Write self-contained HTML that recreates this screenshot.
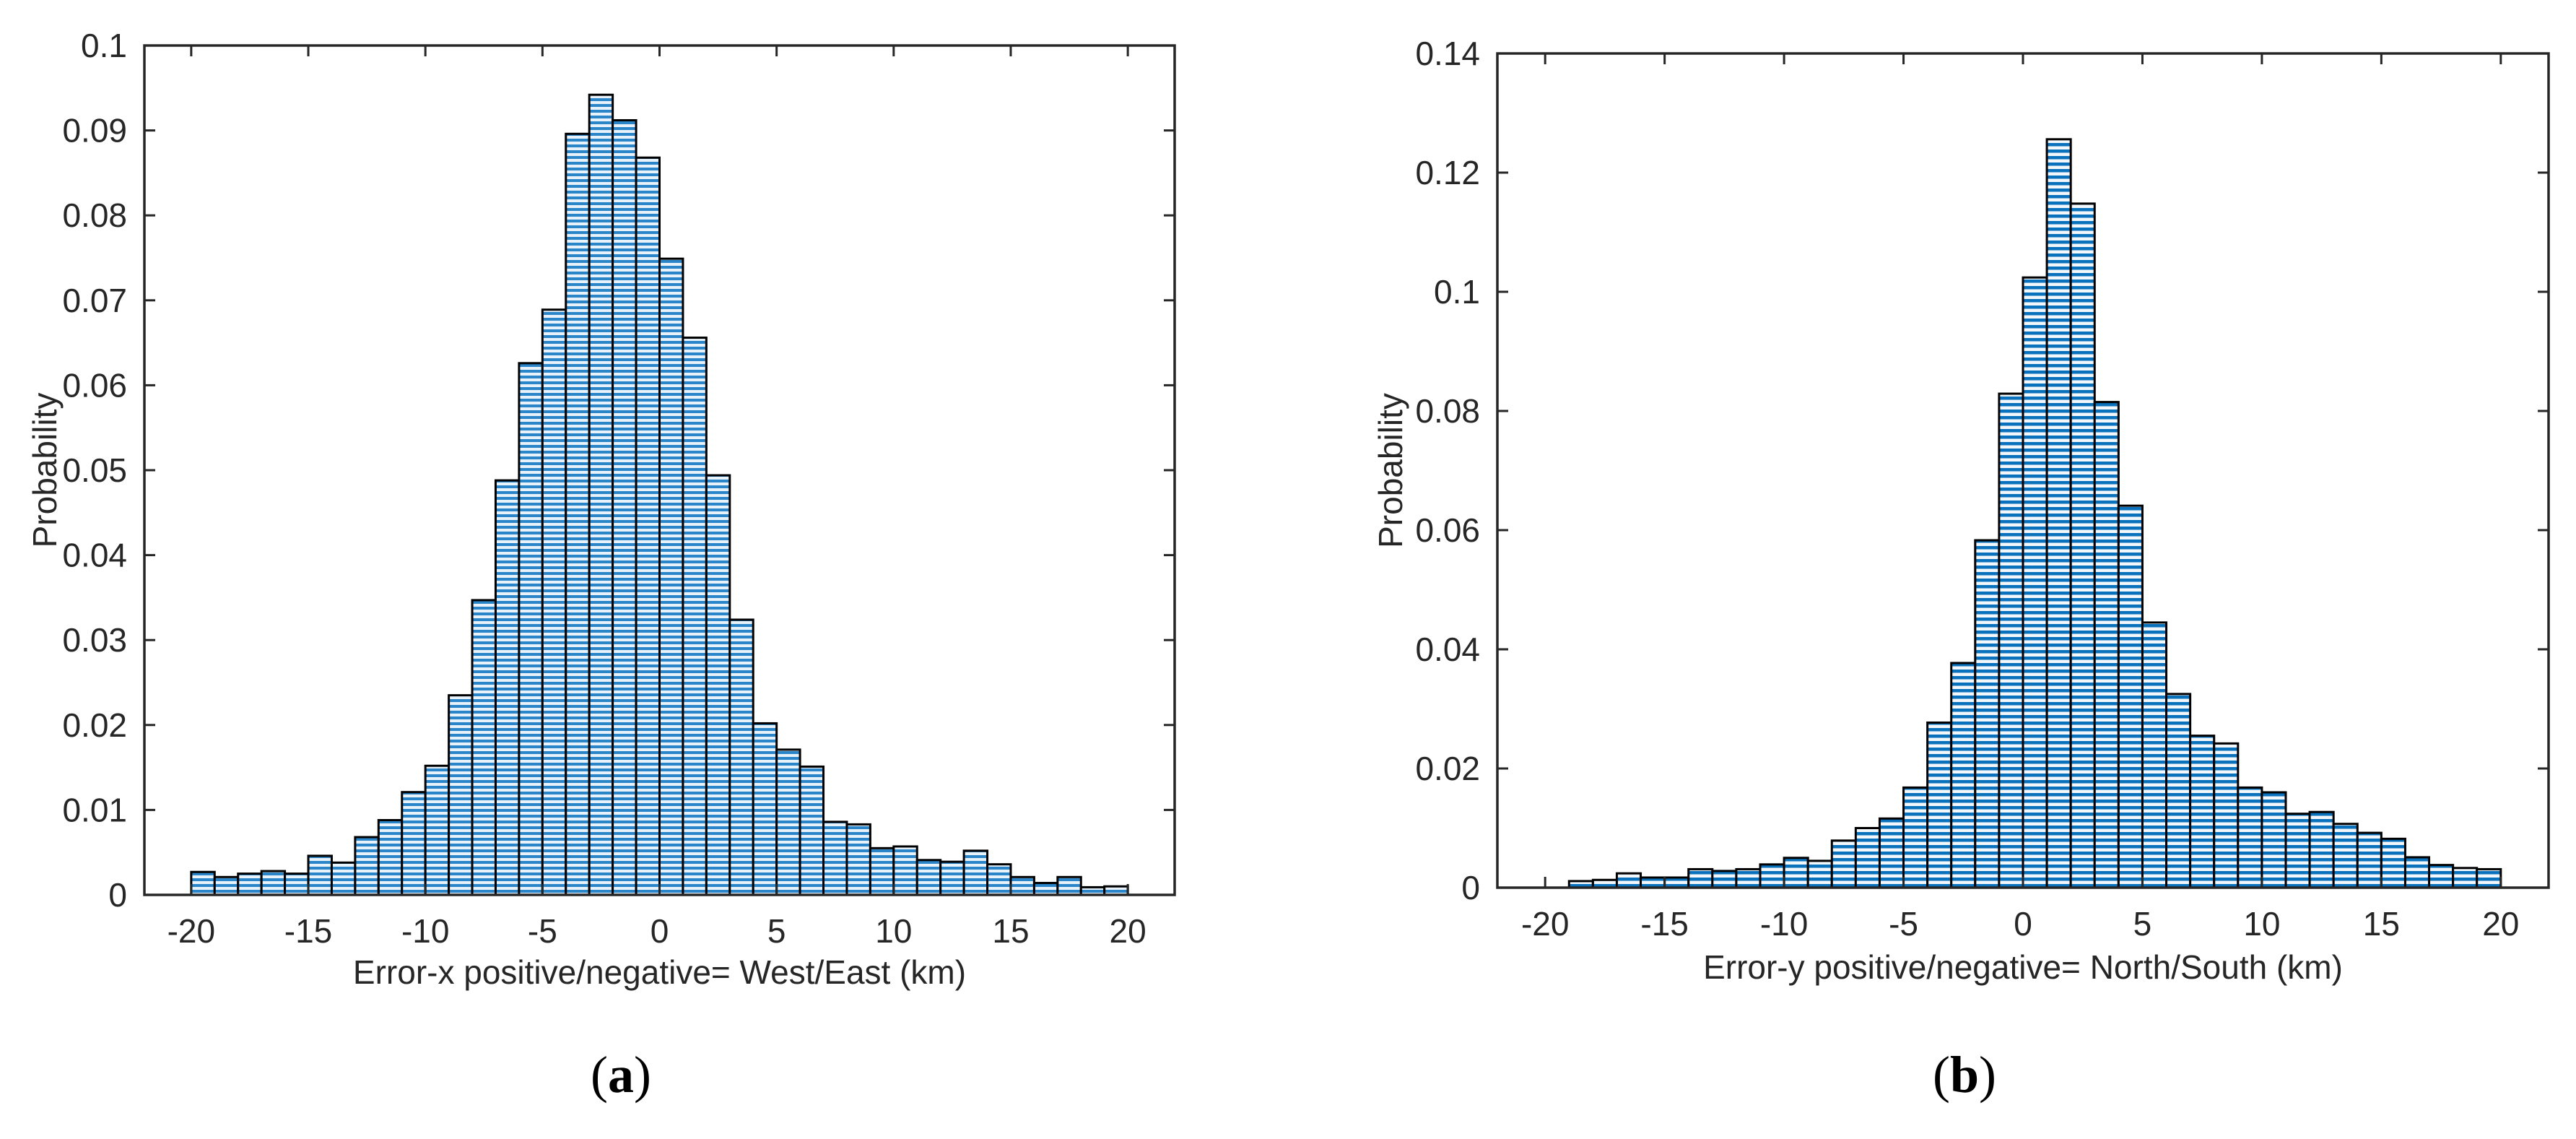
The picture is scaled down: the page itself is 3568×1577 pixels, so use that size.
<!DOCTYPE html>
<html><head><meta charset="utf-8"><style>
html,body{margin:0;padding:0;background:#fff;}
svg{display:block;}
text{font-family:"Liberation Sans",Arial,sans-serif;fill:#262626;}
</style></head><body>
<svg id="fig" width="3568" height="1577" viewBox="0 0 3568 1577" xmlns="http://www.w3.org/2000/svg">
<defs>
<pattern id="stripeA" width="8" height="8" patternUnits="userSpaceOnUse" y="0">
<rect width="8" height="8" fill="#e8f2fa"/><rect y="0" width="8" height="4" fill="#2a86c8"/>
</pattern>
<pattern id="stripeB" width="9" height="9" patternUnits="userSpaceOnUse">
<rect width="9" height="9" fill="#f2f7fb"/><rect y="0" width="9" height="4.5" fill="#0a72bd"/>
</pattern>
</defs>
</svg>
<script>
const binsA = [-20,-19,-18,-17,-16,-15,-14,-13,-12,-11,-10,-9,-8,-7,-6,-5,-4,-3,-2,-1,0,1,2,3,4,5,6,7,8,9,10,11,12,13,14,15,16,17,18,19];
const valuesA = [0.0027,0.0021,0.0025,0.0028,0.0025,0.0046,0.0038,0.0068,0.0088,0.0121,0.0152,0.0235,0.0347,0.0488,0.0626,0.0689,0.0896,0.0942,0.0912,0.0868,0.0749,0.0656,0.0494,0.0324,0.0202,0.0171,0.0151,0.0086,0.0083,0.0055,0.0057,0.0041,0.0039,0.0052,0.0036,0.0021,0.0014,0.0021,0.0009,0.0010];
const binsB = [-19,-18,-17,-16,-15,-14,-13,-12,-11,-10,-9,-8,-7,-6,-5,-4,-3,-2,-1,0,1,2,3,4,5,6,7,8,9,10,11,12,13,14,15,16,17,18,19];
const valuesB = [0.0011,0.0013,0.0024,0.0017,0.0017,0.0031,0.0028,0.0031,0.0039,0.0050,0.0045,0.0079,0.0100,0.0116,0.0168,0.0277,0.0377,0.0583,0.0829,0.1024,0.1256,0.1148,0.0815,0.0641,0.0445,0.0325,0.0255,0.0242,0.0168,0.0160,0.0124,0.0127,0.0107,0.0092,0.0082,0.0051,0.0038,0.0033,0.0031];
const xTicks = [-20,-15,-10,-5,0,5,10,15,20];
const yTicksA = [0,0.01,0.02,0.03,0.04,0.05,0.06,0.07,0.08,0.09,0.1];
const yTickLabelsA = ['0','0.01','0.02','0.03','0.04','0.05','0.06','0.07','0.08','0.09','0.1'];
const yTicksB = [0,0.02,0.04,0.06,0.08,0.1,0.12,0.14];
const yTickLabelsB = ['0','0.02','0.04','0.06','0.08','0.1','0.12','0.14'];

const NS='http://www.w3.org/2000/svg';
const svg=document.getElementById('fig');
function mk(tag,attrs,parent){const e=document.createElementNS(NS,tag);for(const k in attrs)e.setAttribute(k,attrs[k]);(parent||svg).appendChild(e);return e;}

function drawPanel(cfg){
  const g=mk('g',{});
  
  
  const L=cfg.left,R=cfg.right,T=cfg.top,B=cfg.bottom;
  const xs=v=>L+(v-(-22))/44*(R-L);
  const ys=v=>B-v/cfg.ymax*(B-T);
  for(let i=0;i<cfg.bins.length;i++){
    const x0=xs(cfg.bins[i]),x1=xs(cfg.bins[i]+1),y=ys(cfg.values[i]);
    const r=mk('rect',{x:x0,y:y,width:x1-x0,height:B-y,fill:'url(#'+cfg.pat+')',stroke:'#000','stroke-width':3},g);
    
    
  }
  const ax=mk('rect',{x:L,y:T,width:R-L,height:B-T,fill:'none',stroke:'#262626','stroke-width':3.5},g);
  
  
  xTicks.forEach(v=>{
    const x=xs(v);
    mk('line',{x1:x,x2:x,y1:B,y2:B-15,stroke:'#262626','stroke-width':3},g);
    mk('line',{x1:x,x2:x,y1:T,y2:T+15,stroke:'#262626','stroke-width':3},g);
    const t=mk('text',{x:x,y:B+66,'font-size':46,'text-anchor':'middle'},g);
    t.textContent=String(v);
    
    
  });
  cfg.yTicks.forEach((v,i)=>{
    const y=ys(v);
    mk('line',{x1:L,x2:L+15,y1:y,y2:y,stroke:'#262626','stroke-width':3},g);
    mk('line',{x1:R,x2:R-15,y1:y,y2:y,stroke:'#262626','stroke-width':3},g);
    const t=mk('text',{x:L-24,y:y+16,'font-size':46,'text-anchor':'end'},g);
    t.textContent=cfg.yLabels[i];
    
    
  });
  const xl=mk('text',{x:(L+R)/2,y:cfg.xlabelY,'font-size':46,'text-anchor':'middle'},g);
  xl.textContent=cfg.xlabel;
  
  
  const yl=mk('text',{x:0,y:0,'font-size':46,'text-anchor':'middle',transform:'translate('+cfg.ylabelX+','+((T+B)/2)+') rotate(-90)'},g);
  yl.textContent='Probability';
  
  
  const cap=mk('text',{x:cfg.capX,y:1512,'font-size':72,'text-anchor':'middle',style:'font-family:"Liberation Serif",serif;fill:#000'},g);
  cap.innerHTML='(<tspan font-weight="bold">'+cfg.cap+'</tspan>)';
  
  
}
drawPanel({name:'panel-a-histogram',left:200,right:1627,top:63,bottom:1239,ymax:0.1,bins:binsA,values:valuesA,yTicks:yTicksA,yLabels:yTickLabelsA,pat:'stripeA',xlabel:'Error-x positive/negative= West/East (km)',xlabelY:1362,ylabelX:78,capX:860,cap:'a'});
drawPanel({name:'panel-b-histogram',left:2074,right:3530,top:74,bottom:1229,ymax:0.14,bins:binsB,values:valuesB,yTicks:yTicksB,yLabels:yTickLabelsB,pat:'stripeB',xlabel:'Error-y positive/negative= North/South (km)',xlabelY:1355,ylabelX:1942,capX:2721,cap:'b'});
</script>
</body></html>
